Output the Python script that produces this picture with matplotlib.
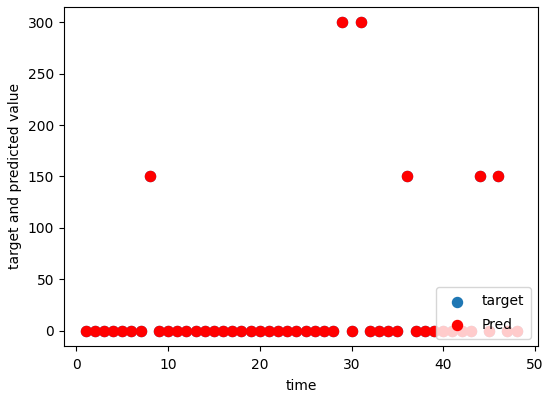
import matplotlib
matplotlib.use("Agg")
import matplotlib.pyplot as plt

# values (time steps 1..48)
time = [1, 2, 3, 4, 5, 6, 7, 8, 9, 10, 11, 12, 13, 14, 15, 16,
        17, 18, 19, 20, 21, 22, 23, 24, 25, 26, 27, 28, 29, 30, 31, 32,
        33, 34, 35, 36, 37, 38, 39, 40, 41, 42, 43, 44, 45, 46, 47, 48]
target = [0, 0, 0, 0, 0, 0, 0, 150, 0, 0, 0, 0, 0, 0, 0, 0,
          0, 0, 0, 0, 0, 0, 0, 0, 0, 0, 0, 0, 300, 0, 300, 0,
          0, 0, 0, 150, 0, 0, 0, 0, 0, 0, 0, 150, 0, 150, 0, 0]
pred = [0, 0, 0, 0, 0, 0, 0, 150, 0, 0, 0, 0, 0, 0, 0, 0,
        0, 0, 0, 0, 0, 0, 0, 0, 0, 0, 0, 0, 300, 0, 300, 0,
        0, 0, 0, 150, 0, 0, 0, 0, 0, 0, 0, 150, 0, 150, 0, 0]

fig = plt.figure(figsize=(5.5, 3.98), dpi=100)
ax = fig.add_axes([0.1164, 0.1307, 0.862, 0.852])
ax.scatter(time, target, s=52, label="target")
ax.scatter(time, pred, s=52, color="red", label="Pred")
ax.tick_params(axis="x", pad=5)
ax.set_xlabel("time", labelpad=5)
ax.set_ylabel("target and predicted value")
ax.legend(loc="lower right", labelspacing=0.7, borderpad=0.5)
fig.savefig("out.png", dpi=100)
